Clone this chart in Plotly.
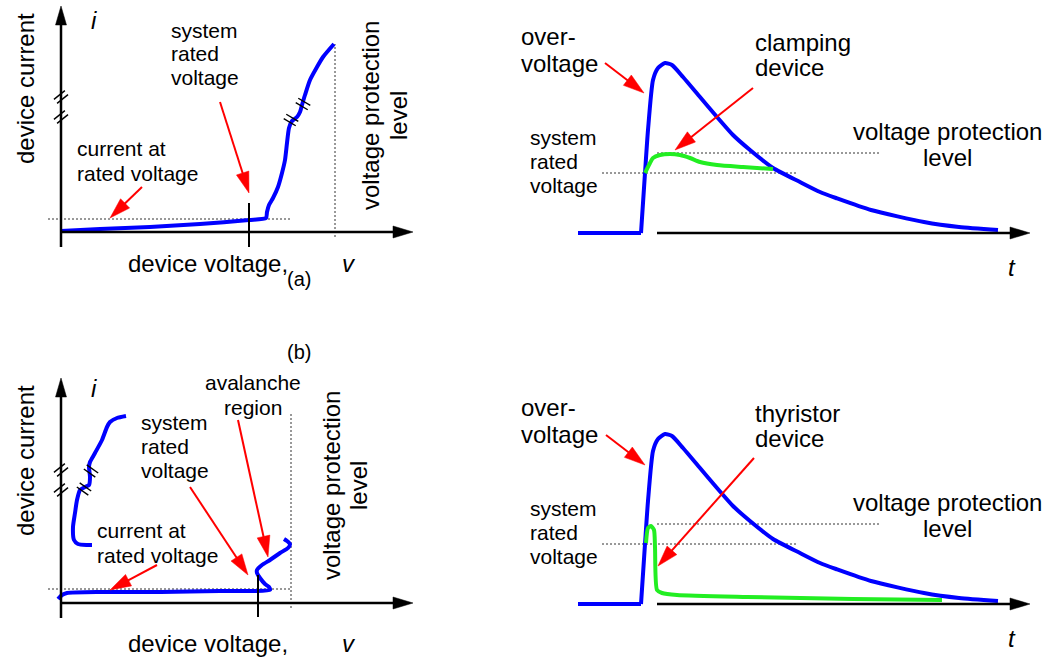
import math
import plotly.graph_objects as go

W, H = 1051, 659
FONT = "Liberation Sans, Arial, sans-serif"
BLUE = "#0000ff"
GREEN = "#22ee22"
RED = "#ff0000"

# ---------------- data (arbitrary units, origin = axis origin) ----------------
# (a) clamping device V-I characteristic
clamp_v = [0, 39, 89, 139, 188, 205, 206, 208, 212, 217, 221, 224, 226, 228, 231, 236, 239, 241, 244, 249, 256, 262, 273]
clamp_i = [1, 3, 5, 8, 12, 14, 20, 27, 34, 45, 59, 72, 89, 104, 111, 115, 120, 127, 137, 152, 165, 175, 188]
clamp_rated_v = 188
clamp_protect_v = 274
clamp_rated_i = 13
clamp_break_v = [230, 242]
clamp_break_i = [112, 128]

# (b) thyristor device V-I characteristic (low-current branch and high-current branch)
thy_low_v = [-3, 1, 6, 40, 100, 159, 192, 209, 208, 204, 199, 196, 196, 201, 209, 219, 227, 229, 226, 223]
thy_low_i = [4, 8, 10, 11, 11, 12, 12, 13, 16, 19, 25, 30, 33, 38, 43, 50, 55, 59, 62, 64]
thy_high_v = [65, 56, 49, 46, 41, 34, 29, 28, 29, 28, 24, 19, 16, 14, 12, 13, 17, 26, 31]
thy_high_i = [187, 185, 181, 176, 163, 150, 141, 136, 126, 118, 116, 113, 103, 90, 76, 63, 59, 58, 58]
thy_rated_v = 197
thy_protect_v = 230
thy_rated_i = 14
thy_break_v = [30, 23]
thy_break_i = [132, 114]
axis_break_i = [135, 115]

# surge waveform (same over-voltage in both time panels)
surge_t = [-62, 1, 5, 8, 13, 18, 25, 32, 43, 60, 77, 93, 110, 133, 160, 180, 196, 231, 284, 319, 358]
surge_v = [0, 0, 60, 103, 153, 165, 170, 168, 156, 136, 116, 98, 83, 65, 51, 41, 35, 23, 11, 6, 3]
clamped_t = [5, 10, 13, 20, 30, 40, 50, 60, 77, 103, 133]
clamped_v = [60, 70, 75, 78, 79, 78, 75, 71, 68, 66, 64]
thyristor_t = [6, 8, 11, 14, 15, 17, 22, 37, 107, 213, 302]
thyristor_v = [61, 76, 78, 74, 57, 14, 11, 9, 7, 5, 4]
rated_level = 60
protect_level = 80

# ---------------- layout geometry (pixel origin of each panel) ----------------
PANELS = {
    "A": dict(x="x", y="y", ox=61, oy=232),
    "B": dict(x="x2", y="y2", ox=640, oy=233),
    "C": dict(x="x3", y="y3", ox=61, oy=603),
    "D": dict(x="x4", y="y4", ox=640, oy=604),
}

fig = go.Figure()
shapes = []
annotations = []


def line_trace(p, xs, ys, color, width, dash=None, spline=True):
    pa = PANELS[p]
    fig.add_trace(go.Scatter(
        x=xs, y=ys, mode="lines", xaxis=pa["x"], yaxis=pa["y"],
        line=dict(color=color, width=width, dash=dash,
                  shape="spline" if spline else "linear", smoothing=0.6),
        hoverinfo="skip", showlegend=False))


def ref(p):
    if p == "P":
        return "x5", "y5"
    return PANELS[p]["x"], PANELS[p]["y"]


def seg(p, x0, y0, x1, y1, color="black", width=1.5):
    xr, yr = ref(p)
    shapes.append(dict(type="line", xref=xr, yref=yr, x0=x0, y0=y0, x1=x1, y1=y1,
                       line=dict(color=color, width=width)))


def arrow(p, x0, y0, x1, y1, color, width, hl, hw):
    xr, yr = ref(p)
    dx, dy = x1 - x0, y1 - y0
    L = math.hypot(dx, dy)
    ux, uy = dx / L, dy / L
    bx, by = x1 - ux * hl, y1 - uy * hl
    nx, ny = -uy * hw / 2, ux * hw / 2
    shapes.append(dict(type="line", xref=xr, yref=yr, x0=x0, y0=y0,
                       x1=bx + ux, y1=by + uy, line=dict(color=color, width=width)))
    shapes.append(dict(type="path", xref=xr, yref=yr,
                       path=f"M{x1},{y1} L{bx + nx},{by + ny} L{bx - nx},{by - ny} Z",
                       fillcolor=color, line=dict(color=color, width=0.5)))


def break_mark(p, cx, cy, dx, dy, length=14, sep=5):
    L = math.hypot(dx, dy)
    ux, uy = dx / L, dy / L
    nx, ny = -uy, ux
    for s in (-sep / 2, sep / 2):
        x0 = cx + nx * s - ux * length / 2
        y0 = cy + ny * s - uy * length / 2
        x1 = cx + nx * s + ux * length / 2
        y1 = cy + ny * s + uy * length / 2
        seg(p, x0, y0, x1, y1, "black", 1.4)


def text(t, px, py, size, xanchor="left", angle=0):
    annotations.append(dict(text=t, x=px, y=py, xref="x5", yref="y5", showarrow=False,
                            xanchor=xanchor, yanchor="middle", textangle=angle,
                            font=dict(family=FONT, size=size, color="black")))


BIG, SMALL = 24, 21
DOT = "2px,2px"

# ---------------- panel A : clamping V-I ----------------
line_trace("A", [-13, 229], [clamp_rated_i, clamp_rated_i], "#333", 1, DOT, False)
line_trace("A", [clamp_protect_v, clamp_protect_v], [-5, 188], "#333", 1, DOT, False)
line_trace("A", clamp_v, clamp_i, BLUE, 4)
arrow("A", 0, -15, 0, 226, "black", 2.5, 19, 11)
arrow("A", 0, 0, 352, 0, "black", 2.5, 20, 12)
seg("A", clamp_rated_v, -15, clamp_rated_v, 29, "black", 2)
for bi in axis_break_i:
    break_mark("A", 0, bi, 1, 0.8)
for bv, bi in zip(clamp_break_v, clamp_break_i):
    break_mark("A", bv, bi, 1, -0.6)

# ---------------- panel C : thyristor V-I ----------------
line_trace("C", [-13, 230], [thy_rated_i, thy_rated_i], "#333", 1, DOT, False)
line_trace("C", [thy_protect_v, thy_protect_v], [-5, 190], "#333", 1, DOT, False)
line_trace("C", thy_low_v, thy_low_i, BLUE, 4)
line_trace("C", thy_high_v, thy_high_i, BLUE, 4)
arrow("C", 0, -15, 0, 225, "black", 2.5, 19, 11)
arrow("C", 0, 0, 352, 0, "black", 2.5, 20, 12)
seg("C", thy_rated_v, -14, thy_rated_v, 28, "black", 2)
for bi in axis_break_i:
    break_mark("C", 0, bi - 2, 1, 0.8)
for bv, bi in zip(thy_break_v, thy_break_i):
    break_mark("C", bv, bi, 1, -0.7)

# ---------------- panels B and D : time waveforms ----------------
for p, gt, gv in (("B", clamped_t, clamped_v), ("D", thyristor_t, thyristor_v)):
    line_trace(p, [-38, 157], [rated_level, rated_level], "#333", 1, DOT, False)
    line_trace(p, [17, 240], [protect_level, protect_level], "#333", 1, DOT, False)
    line_trace(p, surge_t[:2], surge_v[:2], BLUE, 4, spline=False)
    line_trace(p, surge_t[1:], surge_v[1:], BLUE, 4)
    line_trace(p, gt, gv, GREEN, 4)
    arrow(p, 17, 0, 390, 0, "black", 2.5, 20, 12)

# ---------------- red pointer arrows (pixel space) ----------------
red_arrows = [
    (142, 187, 110, 218), (220, 102, 249, 193),
    (605, 63, 644, 93), (753, 88, 675, 150),
    (157, 565, 110, 590), (190, 487, 248, 575), (238, 420, 268, 557),
    (606, 435, 645, 465), (754, 458, 658, 566),
]
for x0, y0, x1, y1 in red_arrows:
    arrow("P", x0, y0, x1, y1, RED, 2, 21, 13)

# ---------------- text ----------------
for cy in (89, 461):
    text("device current", 25, cy, BIG, "center", -90)
text("<i>i</i>", 94, 20, BIG, "center")
text("<i>i</i>", 94, 388, BIG, "center")
for cy in (263, 643):
    text("device voltage,", 208, cy, BIG, "center")
    text("<i>v</i>", 349, cy, BIG, "center")
text("voltage protection", 370, 116, BIG, "center", -90)
text("level", 398, 116, BIG, "center", -90)
text("voltage protection", 331, 486, BIG, "center", -90)
text("level", 358, 486, BIG, "center", -90)
for s, y in zip(["system", "rated", "voltage"], [30, 53, 77]):
    text(s, 169, y, SMALL)
for s, y in zip(["current at", "rated voltage"], [148, 173]):
    text(s, 75, y, SMALL)
for s, y in zip(["system", "rated", "voltage"], [422, 446, 470]):
    text(s, 139, y, SMALL)
for s, y in zip(["current at", "rated voltage"], [530, 555]):
    text(s, 95, y, SMALL)
for s, y in zip(["avalanche", "region"], [382, 407]):
    text(s, 253, y, SMALL, "center")
text("(a)", 299, 279, 20, "center")
text("(b)", 299, 352, 20, "center")
for dy, dev in ((0, "clamping"), (371, "thyristor")):
    text("over-", 519, 36 + dy, BIG)
    text("voltage", 519, 63 + dy, BIG)
    text(dev, 753, 42 + dy, BIG)
    text("device", 753, 67 + dy, BIG)
    for s, y in zip(["system", "rated", "voltage"], [137, 161, 185]):
        text(s, 528, y + dy, SMALL)
    text("voltage protection", 947, 131 + dy, BIG, "center")
    text("level", 947, 157 + dy, BIG, "center")
    text("<i>t</i>", 1012, 267 + dy, BIG, "center")


def axis(rng, **kw):
    return dict(range=rng, visible=False, fixedrange=True, domain=[0, 1], **kw)


lay = dict(
    width=W, height=H, autosize=False,
    margin=dict(l=0, r=0, t=0, b=0, pad=0),
    paper_bgcolor="white", plot_bgcolor="rgba(0,0,0,0)",
    showlegend=False, shapes=shapes, annotations=annotations,
)
for i, (k, pa) in enumerate(PANELS.items()):
    sfx = "" if i == 0 else str(i + 1)
    xr = [-pa["ox"], W - pa["ox"]]
    yr = [pa["oy"] - H, pa["oy"]]
    if i == 0:
        lay["xaxis"] = axis(xr, anchor="y")
        lay["yaxis"] = axis(yr, anchor="x")
    else:
        lay["xaxis" + sfx] = axis(xr, anchor="y" + sfx, overlaying="x")
        lay["yaxis" + sfx] = axis(yr, anchor="x" + sfx, overlaying="y")
lay["xaxis5"] = axis([0, W], anchor="y5", overlaying="x")
lay["yaxis5"] = axis([H, 0], anchor="x5", overlaying="y")
fig.add_trace(go.Scatter(x=[None], y=[None], xaxis="x5", yaxis="y5", showlegend=False))
fig.update_layout(**lay)

fig.write_html(
    "out.html",
    config={"displayModeBar": False, "staticPlot": True},
    post_script="document.body.style.margin='0px';document.body.style.overflow='hidden';",
)
